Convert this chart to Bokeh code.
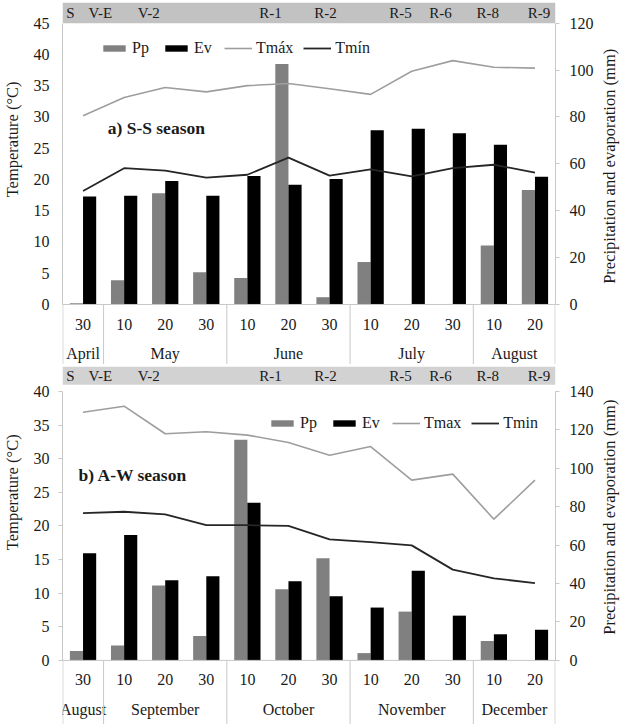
import numpy as np
from math import pi
from bokeh.plotting import figure
from bokeh.models import (Range1d, LinearAxis, FixedTicker, Span, Label,
                          Legend, LegendItem, ColumnDataSource)
from bokeh.layouts import column, row
from bokeh.embed import file_html
from bokeh.resources import INLINE
from bokeh.core.properties import value

# ---------------- data ----------------
STAGES = ["S", "V-E", "V-2", "R-1", "R-2", "R-5", "R-6", "R-8", "R-9"]
STAGE_POS = [0.19, 0.92, 2.1, 5.06, 6.4, 8.23, 9.2, 10.35, 11.6]

DAYS = ["30", "10", "20", "30", "10", "20", "30", "10", "20", "30", "10", "20"]

MONTHS_A = ["April", "May", "June", "July", "August"]
MONTH_SPAN_A = [1, 3, 3, 3, 2]
PP_A = [0.5, 10.3, 47.4, 13.7, 11.3, 102.6, 3.1, 18.1, 0, 0, 25.2, 48.8]
EV_A = [46.1, 46.4, 52.7, 46.4, 54.8, 51.1, 53.5, 74.3, 75.0, 73.0, 68.1, 54.5]
TMAX_A = [30.2, 33.1, 34.7, 34.0, 35.0, 35.35, 34.5, 33.6, 37.3, 39.0, 37.95, 37.8]
TMIN_A = [18.15, 21.8, 21.4, 20.3, 20.75, 23.5, 20.6, 21.6, 20.5, 21.8, 22.35, 21.1]

MONTHS_B = ["August", "September", "October", "November", "December"]
MONTH_SPAN_B = [1, 3, 3, 3, 2]
PP_B = [4.9, 7.8, 39.0, 12.7, 114.8, 37.0, 53.2, 3.8, 25.4, 0, 10.1, 0]
EV_B = [55.7, 65.2, 41.7, 43.8, 82.1, 41.2, 33.4, 27.5, 46.6, 23.3, 13.6, 16.0]
TMAX_B = [36.9, 37.8, 33.7, 34.0, 33.5, 32.4, 30.5, 31.8, 26.8, 27.7, 21.0, 26.8]
TMIN_B = [21.9, 22.1, 21.7, 20.1, 20.1, 20.0, 18.0, 17.6, 17.1, 13.5, 12.2, 11.5]

FONT = value("Liberation Serif")
FONT_NAME = "Liberation Serif"
TXT = "#1a1a1a"
AXC = "#c8c8c8"
LW, RW = 24, 26          # widths of the side strips holding the axis titles


def side_strip(width, height, top_border, y_range, text, y):
    s = figure(width=width, height=height, x_range=Range1d(0, 1),
               y_range=y_range, output_backend="svg", toolbar_location=None,
               x_axis_location=None, y_axis_location=None,
               min_border_left=0, min_border_right=0,
               min_border_top=top_border, min_border_bottom=0,
               background_fill_color="white", border_fill_color="white")
    s.outline_line_color = None
    for g in s.grid:
        g.visible = False
    s.text(x=[0.5], y=[y], text=[text], angle=pi / 2, text_font=FONT,
           text_font_size="16.5px", text_align="center",
           text_baseline="middle", text_color=TXT)
    return s


def panel(height, top_border, y_lo, y_hi, t_max, mm_max, t_ticks, mm_ticks,
          band_lo, band_color, months, spans, pp, ev, tmax, tmin,
          labels, legend_loc, season, season_xy, left_ticks_out,
          day_y, month_y, left_title_y, right_title_y):
    k = mm_max / t_max
    yr = Range1d(y_lo, y_hi)
    p = figure(width=622 - LW - RW, height=height, x_range=Range1d(0, 12),
               y_range=yr, output_backend="svg",
               toolbar_location=None, x_axis_location=None,
               y_axis_location=None, min_border_left=62 - LW,
               min_border_right=67 - RW,
               min_border_top=top_border, min_border_bottom=0,
               background_fill_color="white", border_fill_color="white")
    p.outline_line_color = None
    p.extra_y_ranges = {"mm": Range1d(y_lo * k, y_hi * k)}
    for g in p.grid:
        g.visible = False

    n = len(pp)
    centers = np.arange(n) + 0.5

    # top band with phenological stages
    p.quad(left=0, right=n, bottom=band_lo, top=y_hi,
           fill_color=band_color, line_color=None)
    p.text(x=STAGE_POS, y=[(band_lo + y_hi) / 2] * len(STAGES), text=STAGES,
           text_font=FONT, text_font_size="15px", text_align="center",
           text_baseline="middle", text_color=TXT)

    # axes
    la = LinearAxis(ticker=FixedTicker(ticks=t_ticks), bounds=(0, t_max))
    ra = LinearAxis(y_range_name="mm", ticker=FixedTicker(ticks=mm_ticks),
                    bounds=(0, mm_max))
    for ax in (la, ra):
        ax.axis_line_color = AXC
        ax.major_tick_line_color = AXC
        ax.minor_tick_line_color = None
        ax.major_tick_in = 0
        ax.major_label_text_font = FONT_NAME
        ax.major_label_text_font_size = "16px"
        ax.major_label_text_color = TXT
    la.major_tick_out = left_ticks_out
    la.major_label_standoff = 13 - left_ticks_out
    ra.major_tick_out = 4
    ra.major_label_standoff = 10
    p.add_layout(la, "left")
    p.add_layout(ra, "right")

    p.add_layout(Span(location=0, dimension="width", line_color=AXC,
                      line_width=1))

    # bars and lines
    src = ColumnDataSource(dict(xp=centers - 0.16, xe=centers + 0.16,
                                pp=pp, ev=ev, c=centers,
                                tmax=tmax, tmin=tmin))
    r_pp = p.vbar(x="xp", top="pp", width=0.32, source=src, y_range_name="mm",
                  fill_color="#808080", line_color=None)
    r_ev = p.vbar(x="xe", top="ev", width=0.32, source=src, y_range_name="mm",
                  fill_color="#000000", line_color=None)
    r_tx = p.line(x="c", y="tmax", source=src, line_color="#9e9e9e",
                  line_width=1.6)
    r_tn = p.line(x="c", y="tmin", source=src, line_color="#262626",
                  line_width=1.8)

    # category labels below
    p.text(x=centers, y=[day_y] * n, text=DAYS, text_font=FONT,
           text_font_size="16px", text_align="center",
           text_baseline="middle", text_color=TXT)
    edges = np.concatenate([[0], np.cumsum(spans)]).astype(float)
    mcent = (edges[:-1] + edges[1:]) / 2
    p.text(x=mcent, y=[month_y] * len(months), text=months, text_font=FONT,
           text_font_size="16px", text_align="center",
           text_baseline="middle", text_color=TXT)
    sep = edges.copy()
    sep[0] += 0.008
    sep[-1] -= 0.008
    p.segment(x0=sep, y0=[0] * len(sep), x1=sep,
              y1=[y_lo] * len(sep), line_color=AXC, line_width=1)

    legend = Legend(items=[LegendItem(label=labels[0], renderers=[r_pp]),
                           LegendItem(label=labels[1], renderers=[r_ev]),
                           LegendItem(label=labels[2], renderers=[r_tx]),
                           LegendItem(label=labels[3], renderers=[r_tn])],
                    location=legend_loc, orientation="horizontal",
                    glyph_width=28, glyph_height=8, label_standoff=4,
                    spacing=10, padding=0, margin=0,
                    border_line_color=None, background_fill_alpha=0,
                    label_text_font=FONT_NAME, label_text_font_size="16px",
                    label_text_color=TXT)
    p.add_layout(legend)

    p.add_layout(Label(x=season_xy[0], y=season_xy[1], text=season,
                       text_font=FONT_NAME, text_font_size="17.5px",
                       text_font_style="bold", text_baseline="middle",
                       text_color=TXT))

    left = side_strip(LW, height, top_border, yr, "Temperature (°C)",
                      left_title_y)
    right = side_strip(RW, height, top_border, yr,
                       "Precipitation and evaporation (mm)", right_title_y)
    return row(left, p, right, spacing=0)


top = panel(height=364, top_border=2, y_lo=-9.6, y_hi=48.3, t_max=45,
            mm_max=120, t_ticks=list(range(0, 46, 5)),
            mm_ticks=list(range(0, 121, 20)), band_lo=45,
            band_color="#c2c2c2", months=MONTHS_A, spans=MONTH_SPAN_A,
            pp=PP_A, ev=EV_A, tmax=TMAX_A, tmin=TMIN_A,
            labels=["Pp", "Ev", "Tmáx", "Tmín"], legend_loc=(38, 307),
            season="a) S-S season", season_xy=(1.1, 28.2), left_ticks_out=0,
            day_y=-3.2, month_y=-7.8, left_title_y=26.4, right_title_y=22.1)

bottom = panel(height=360, top_border=2, y_lo=-9.53, y_hi=43.7, t_max=40,
               mm_max=140, t_ticks=list(range(0, 41, 5)),
               mm_ticks=list(range(0, 141, 20)), band_lo=41.0,
               band_color="#d2d2d2", months=MONTHS_B, spans=MONTH_SPAN_B,
               pp=PP_B, ev=EV_B, tmax=TMAX_B, tmin=TMIN_B,
               labels=["Pp", "Ev", "Tmax", "Tmin"], legend_loc=(206, 292),
               season="b) A-W season", season_xy=(0.39, 27.5),
               left_ticks_out=4, day_y=-2.85, month_y=-7.3,
               left_title_y=25.0, right_title_y=21.3)

layout = column(top, bottom, spacing=0)
open("out.html", "w").write(file_html(layout, INLINE))
